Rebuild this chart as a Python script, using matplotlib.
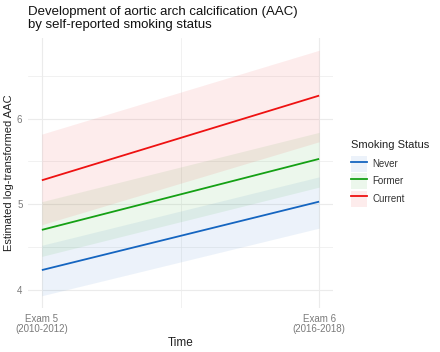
import matplotlib.pyplot as plt
import numpy as np
from matplotlib.patches import Patch
from matplotlib.lines import Line2D

plt.rcParams['font.family'] = ['Liberation Sans', 'DejaVu Sans']

# data
exams = ['Exam 5\n(2010-2012)', 'Exam 6\n(2016-2018)']
groups = ['Never', 'Former', 'Current']
colors = ['#1565C0', '#14A014', '#EE1111']
est = {'Never': [4.23, 5.03], 'Former': [4.70, 5.53], 'Current': [5.28, 6.27]}
lower = {'Never': [3.93, 4.72], 'Former': [4.39, 5.20], 'Current': [4.76, 5.73]}
upper = {'Never': [4.52, 5.32], 'Former': [5.03, 5.84], 'Current': [5.82, 6.80]}

W, H = 440, 352
fig = plt.figure(figsize=(W / 100, H / 100), dpi=100)
ax = fig.add_axes([28 / W, (H - 308) / H, 305 / W, 270 / H])

x = np.arange(len(exams))
for g, c in zip(groups, colors):
    ax.fill_between(x, lower[g], upper[g], color=c, alpha=0.08, linewidth=0)
    ax.plot(x, est[g], color=c, lw=1.3, solid_capstyle='butt')

allv = [v for g in groups for v in lower[g] + upper[g]]
lo, hi = min(allv), max(allv)
pad = (hi - lo) * 0.05
ax.set_ylim(lo - pad, hi + pad)
ax.set_xlim(-0.05, 1.05)

ax.set_yticks([4, 5, 6])
ax.set_yticks([4.5, 5.5, 6.5], minor=True)
ax.set_xticks(x)
ax.set_xticks([0.5], minor=True)
ax.set_xticklabels(exams, fontsize=7, color='#7a7a7a', linespacing=1.05)
ax.set_yticklabels(['4', '5', '6'], fontsize=7, color='#7a7a7a')
ax.tick_params(which='both', length=0, pad=4)
ax.grid(which='major', color='#EBEBEB', lw=0.8)
ax.grid(which='minor', color='#EBEBEB', lw=0.5)
ax.set_axisbelow(True)
for s in ax.spines.values():
    s.set_visible(False)

ax.set_xlabel('Time', fontsize=8.5, color='#222222', labelpad=2)
ax.set_ylabel('Estimated log-transformed AAC', fontsize=8, color='#222222', labelpad=2)

fig.text(28 / W, 1 - 6 / H, 'Development of aortic arch calcification (AAC)\nby self-reported smoking status',
         fontsize=9.5, color='#111111', va='top', ha='left', linespacing=1.1)

# legend: title drawn separately for ggplot-like spacing
fig.text(351 / W, 1 - 145 / H, 'Smoking Status', fontsize=8, color='#222222', va='center', ha='left')
handles = [(Patch(facecolor=c, alpha=0.08, edgecolor='none'), Line2D([], [], color=c, lw=1.3))
           for c in colors]
leg = fig.legend(handles, groups, loc='upper left', bbox_to_anchor=(351 / W, 1 - 156 / H),
                 frameon=False, fontsize=7, handlelength=1.65, handleheight=2.15,
                 handletextpad=0.55, labelspacing=0.15, borderaxespad=0, borderpad=0)
for t in leg.get_texts():
    t.set_color('#333333')

fig.savefig('out.png', dpi=100)
